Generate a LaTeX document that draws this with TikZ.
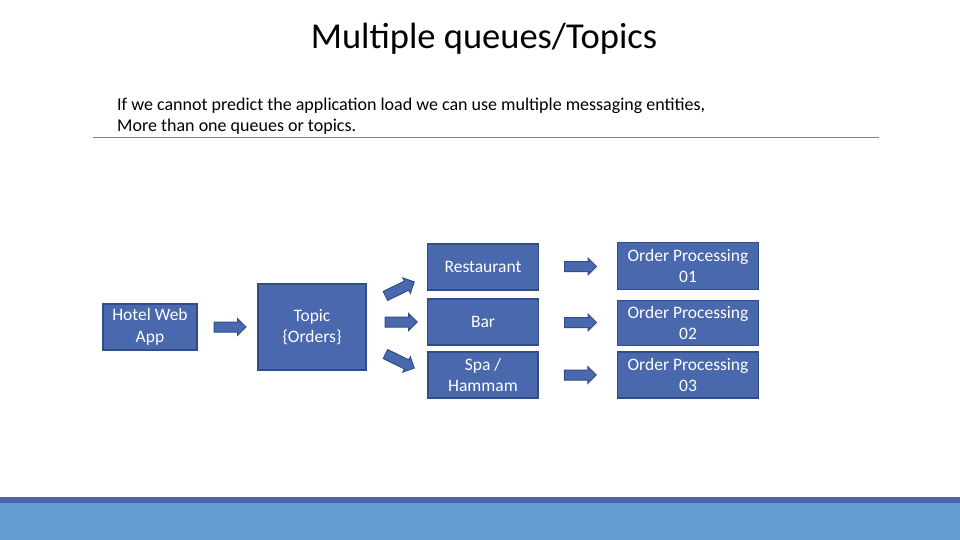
\documentclass[tikz,border=0pt]{standalone}
\usepackage{fontspec}
\setmainfont{Carlito}
\usepackage{tikz}
\usetikzlibrary{shapes.arrows,calc,positioning}
\definecolor{boxblue}{HTML}{4A68AD}
\definecolor{boxline}{HTML}{2F4D86}
\definecolor{stripe}{HTML}{4A66AC}
\definecolor{band}{HTML}{619DD1}

\begin{document}
\begin{tikzpicture}[x=1pt,y=-1pt,
  box/.style={draw=boxline,line width=1.2pt,fill=boxblue,text=white,align=center,
    font=\fontsize{17.5}{21.5}\selectfont,inner sep=0pt},
  blockarr/.style={single arrow,draw=boxline,line width=1pt,fill=boxblue,
    minimum height=32pt,inner xsep=0pt,inner ysep=4.5pt,single arrow head extend=3.5pt}]
\useasboundingbox (0,0) rectangle (960,540);
\fill[band] (0,503) rectangle (960,540);
\fill[stripe] (0,497) rectangle (960,503);
\node (title) at (484,39) {\fontsize{36.5}{40}\selectfont Multiple queues/Topics};
\node[anchor=north west,align=left,inner sep=0pt,font=\fontsize{18}{21}\selectfont] (intro) at (117,98)
  {If we cannot predict the application load we can use multiple messaging entities,\\
   More than one queues or topics.};
\draw[gray,line width=0.8pt] (93,137) coordinate (rl) -- (879,137) coordinate (rr);
% boxes
\node[box,minimum width=94pt,minimum height=46pt] (hotel) at (150,327) {Hotel Web\\App};
\node[box,minimum width=108pt,minimum height=86pt] (topic) at (312,327) {Topic\\\{Orders\}};
\node[box,minimum width=111pt,minimum height=46pt] (rest) at (483,267) {Restaurant};
\node[box,minimum width=111pt,minimum height=46pt] (bar) at (483,322) {Bar};
\node[box,minimum width=110pt,minimum height=46pt] (spa) at (483,375) {Spa /\\Hammam};
\node[box,minimum width=141pt,minimum height=47pt] (op1) at (688,266) {Order Processing\\01};
\node[box,minimum width=141pt,minimum height=45pt] (op2) at (688,323) {Order Processing\\02};
\node[box,minimum width=141pt,minimum height=46pt] (op3) at (688,375) {Order Processing\\03};
% arrows
\node[blockarr] (a0) at ($(hotel.east)!0.5!(topic.west)$) {};
\node[blockarr,rotate=26] (a1) at ($(topic.east)+(31,-37)$) {};
\node[blockarr] (a2) at ($(topic.east)+(32,-5)$) {};
\node[blockarr,rotate=-26] (a3) at ($(topic.east)+(31,33)$) {};
\node[blockarr] (a4) at ($(rest.east)!0.5!(op1.west)$) {};
\node[blockarr] (a5) at ($(bar.east)!0.5!(op2.west)$) {};
\node[blockarr] (a6) at ($(spa.east)!0.5!(op3.west)$) {};
\end{tikzpicture}
\end{document}
